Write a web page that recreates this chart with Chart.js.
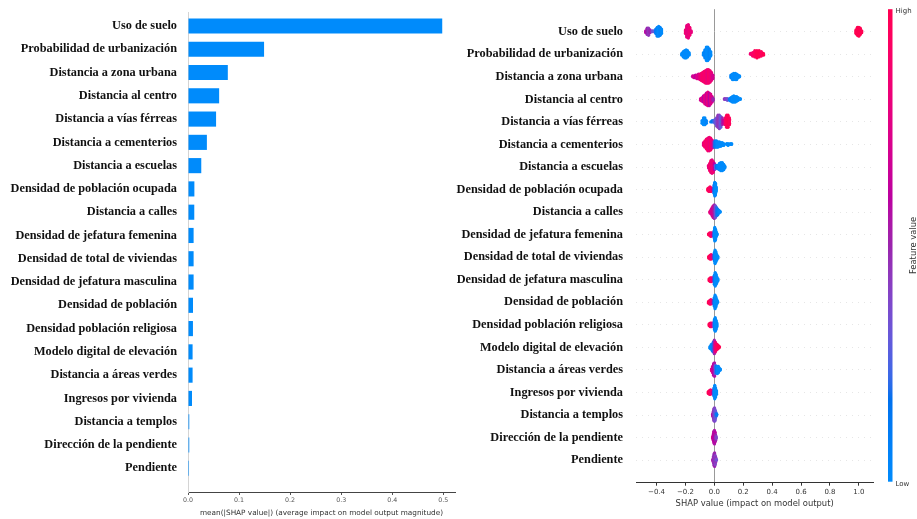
<!DOCTYPE html>
<html>
<head>
<meta charset="utf-8">
<script src="https://cdn.jsdelivr.net/npm/chart.js@4.4.0/dist/chart.umd.min.js"></script>
<style>
    html, body { margin: 0; padding: 0; background: #fff; }
    #wrap { position: relative; width: 917px; height: 519px; }
    .box { position: absolute; top: 0; height: 519px; }
    #bar-box { left: 0; width: 460px; }
    #swarm-box { left: 440px; width: 477px; }
</style>
</head>
<body>
<div id="wrap">
    <div class="box" id="bar-box"><canvas id="bar-chart"></canvas></div>
    <div class="box" id="swarm-box"><canvas id="swarm-chart"></canvas></div>
</div>
<script>
const features = [
    'Uso de suelo',
    'Probabilidad de urbanización',
    'Distancia a zona urbana',
    'Distancia al centro',
    'Distancia a vías férreas',
    'Distancia a cementerios',
    'Distancia a escuelas',
    'Densidad de población ocupada',
    'Distancia a calles',
    'Densidad de jefatura femenina',
    'Densidad de total de viviendas',
    'Densidad de jefatura masculina',
    'Densidad de población',
    'Densidad población religiosa',
    'Modelo digital de elevación',
    'Distancia a áreas verdes',
    'Ingresos por vivienda',
    'Distancia a templos',
    'Dirección de la pendiente',
    'Pendiente'
];

// mean(|SHAP value|) per feature, same order as features
const meanAbsShap = [0.498, 0.149, 0.078, 0.061, 0.055, 0.037, 0.026, 0.0125, 0.0123, 0.011,
    0.011, 0.011, 0.0098, 0.0097, 0.009, 0.009, 0.0078, 0.0025, 0.0025, 0.002];

const barTicks = [0, 0.1, 0.2, 0.3, 0.4, 0.5];
const shapTicks = [-0.4, -0.2, 0, 0.2, 0.4, 0.6, 0.8, 1.0];

// beeswarm, one list per feature: [shap value, feature value (0 low .. 1 high), samples]
const swarmPoints = [
    [[-0.475, 0.6, 3], [-0.465, 0.5, 8], [-0.455, 0.45, 9], [-0.445, 0.5, 4], [-0.43, 0.35, 2], [-0.42, 0.3, 2],
     [-0.405, 0.1, 6], [-0.395, 0.05, 11], [-0.385, 0, 12], [-0.375, 0.05, 10], [-0.365, 0, 6],
     [-0.2, 0.85, 5], [-0.19, 0.8, 14], [-0.18, 0.8, 16], [-0.17, 0.85, 10], [-0.16, 0.8, 3],
     [0.98, 1, 5], [0.99, 1, 10], [1.0, 1, 11], [1.01, 1, 8], [1.02, 1, 3]],
    [[-0.225, 0, 3], [-0.215, 0, 7], [-0.205, 0, 9], [-0.195, 0, 10], [-0.185, 0, 8], [-0.175, 0, 4],
     [-0.075, 0, 4], [-0.065, 0.05, 10], [-0.055, 0, 16], [-0.045, 0, 16], [-0.035, 0.05, 12], [-0.025, 0, 6],
     [0.25, 0.85, 2], [0.265, 0.9, 5], [0.28, 0.95, 8], [0.295, 1, 9], [0.31, 1, 8], [0.325, 0.95, 6], [0.34, 1, 3]],
    [[-0.15, 0.65, 2], [-0.14, 0.7, 3], [-0.13, 0.6, 4], [-0.12, 0.75, 5], [-0.11, 0.7, 6], [-0.1, 0.8, 7],
     [-0.09, 0.85, 9], [-0.08, 0.9, 11], [-0.07, 0.85, 13], [-0.06, 0.9, 15], [-0.05, 0.8, 16], [-0.04, 0.9, 16],
     [-0.03, 0.85, 14], [-0.02, 0.8, 10], [-0.01, 0.7, 5],
     [0.115, 0.05, 4], [0.125, 0, 7], [0.135, 0, 8], [0.145, 0, 8], [0.155, 0, 7], [0.165, 0, 4], [0.175, 0, 2]],
    [[-0.095, 0.7, 3], [-0.085, 0.75, 5], [-0.075, 0.6, 8], [-0.065, 0.8, 11], [-0.055, 0.65, 14], [-0.045, 0.8, 16],
     [-0.035, 0.6, 15], [-0.025, 0.75, 12], [-0.015, 0.7, 7], [-0.008, 0.5, 3],
     [0.07, 0.45, 2], [0.08, 0.4, 2], [0.09, 0.35, 3],
     [0.105, 0.1, 3], [0.115, 0.05, 5], [0.125, 0, 7], [0.135, 0, 8], [0.145, 0, 7], [0.155, 0, 6], [0.165, 0, 4], [0.18, 0, 2]],
    [[-0.085, 0, 3], [-0.075, 0, 6], [-0.065, 0, 6], [-0.055, 0.05, 3],
     [-0.025, 0.1, 1], [-0.015, 0.15, 2], [-0.005, 0.2, 2],
     [0.005, 0.3, 4], [0.015, 0.35, 7], [0.025, 0.45, 10], [0.035, 0.4, 11], [0.045, 0.3, 9], [0.055, 0.5, 6], [0.062, 0.6, 3],
     [0.075, 0.9, 6], [0.085, 0.95, 10], [0.095, 1, 10], [0.105, 0.95, 6]],
    [[-0.075, 0.8, 4], [-0.065, 0.9, 8], [-0.055, 0.85, 12], [-0.045, 0.9, 15], [-0.035, 0.8, 16], [-0.025, 0.9, 14],
     [-0.015, 0.75, 10], [-0.005, 0.5, 7],
     [0.005, 0.1, 8], [0.015, 0.05, 8], [0.025, 0, 7], [0.035, 0, 6], [0.045, 0, 5], [0.055, 0, 4], [0.065, 0, 3],
     [0.085, 0, 2], [0.095, 0, 3], [0.11, 0, 2], [0.12, 0, 2]],
    [[-0.04, 0.8, 4], [-0.032, 0.85, 9], [-0.024, 0.9, 14], [-0.016, 0.8, 16], [-0.008, 0.85, 13], [0, 0.6, 8],
     [0.008, 0.3, 5], [0.016, 0.15, 4],
     [0.025, 0.05, 5], [0.035, 0, 8], [0.045, 0, 10], [0.055, 0, 10], [0.065, 0, 7], [0.073, 0, 3]],
    [[-0.045, 1, 3], [-0.038, 0.95, 5], [-0.03, 0.9, 6], [-0.022, 0.95, 5], [-0.015, 0.85, 3], [-0.008, 0.6, 3],
     [-0.002, 0.2, 10], [0.003, 0.05, 16], [0.008, 0, 14], [0.013, 0, 6]],
    [[-0.03, 0.8, 3], [-0.022, 0.75, 6], [-0.015, 0.65, 10], [-0.008, 0.7, 14], [0, 0.5, 16], [0.008, 0.35, 14],
     [0.016, 0.2, 10], [0.024, 0.1, 7], [0.032, 0.05, 4], [0.04, 0, 2]],
    [[-0.04, 1, 2], [-0.032, 0.95, 4], [-0.024, 0.9, 5], [-0.016, 0.85, 4], [-0.008, 0.6, 3],
     [-0.002, 0.2, 8], [0.003, 0, 16], [0.008, 0, 13], [0.014, 0, 6], [0.02, 0, 2]],
    [[-0.038, 1, 3], [-0.03, 0.95, 5], [-0.022, 0.9, 6], [-0.014, 0.8, 4], [-0.006, 0.5, 4],
     [0, 0.15, 10], [0.005, 0, 16], [0.011, 0, 12], [0.017, 0, 7], [0.024, 0, 3]],
    [[-0.036, 1, 3], [-0.028, 0.95, 5], [-0.02, 0.9, 5], [-0.012, 0.8, 4], [-0.005, 0.5, 4],
     [0, 0.15, 11], [0.006, 0, 16], [0.012, 0, 12], [0.018, 0, 7], [0.025, 0, 3]],
    [[-0.04, 1, 3], [-0.032, 0.95, 5], [-0.024, 0.9, 6], [-0.016, 0.85, 4], [-0.008, 0.55, 4],
     [-0.001, 0.15, 10], [0.005, 0, 16], [0.011, 0, 12], [0.017, 0, 6], [0.023, 0, 2]],
    [[-0.036, 1, 3], [-0.028, 0.95, 5], [-0.02, 0.9, 5], [-0.012, 0.75, 4], [-0.005, 0.4, 5],
     [0.001, 0.1, 12], [0.006, 0, 16], [0.012, 0, 11], [0.018, 0, 5]],
    [[-0.03, 0, 3], [-0.022, 0, 6], [-0.014, 0.05, 9], [-0.007, 0.2, 12], [0, 0.5, 16], [0.007, 0.8, 12],
     [0.014, 0.9, 8], [0.021, 0.95, 6], [0.028, 1, 4], [0.035, 1, 2]],
    [[-0.02, 0.75, 3], [-0.012, 0.7, 8], [-0.005, 0.6, 14], [0.001, 0.55, 16], [0.007, 0.3, 10], [0.014, 0.1, 8],
     [0.021, 0, 9], [0.028, 0, 8], [0.035, 0, 4], [0.042, 0, 2]],
    [[-0.042, 1, 3], [-0.034, 0.95, 5], [-0.026, 0.9, 6], [-0.018, 0.85, 4], [-0.01, 0.6, 3],
     [-0.003, 0.2, 10], [0.003, 0, 16], [0.009, 0, 11], [0.015, 0, 5]],
    [[-0.012, 0.6, 3], [-0.007, 0.5, 8], [-0.003, 0.45, 14], [0.001, 0.4, 16], [0.005, 0.35, 13], [0.009, 0.3, 8],
     [0.013, 0.2, 4], [0.017, 0.1, 2]],
    [[-0.012, 0.7, 3], [-0.007, 0.65, 8], [-0.003, 0.6, 14], [0.001, 0.55, 16], [0.005, 0.6, 12], [0.009, 0.5, 7],
     [0.013, 0.4, 3]],
    [[-0.01, 0.55, 3], [-0.006, 0.5, 8], [-0.002, 0.45, 14], [0.002, 0.5, 16], [0.006, 0.4, 11], [0.01, 0.45, 6],
     [0.014, 0.35, 2]]
];

// shap red_blue colormap (LCH interpolation)
const blueLch = [54, 70, 4.6588];
const redLch = [54, 90, 0.35470565 + 2 * Math.PI];
const lMid = 40;

const labToRgb = (L, a, b) => {
    const fy = (L + 16) / 116, fx = fy + a / 500, fz = fy - b / 200;
    const inv = t => t > 6 / 29 ? t * t * t : 3 * (6 / 29) ** 2 * (t - 4 / 29);
    const X = 0.95047 * inv(fx), Y = inv(fy), Z = 1.08883 * inv(fz);
    const lin = [
        3.2406 * X - 1.5372 * Y - 0.4986 * Z,
        -0.9689 * X + 1.8758 * Y + 0.0415 * Z,
        0.0557 * X - 0.2040 * Y + 1.0570 * Z
    ];
    return lin.map(c => {
        c = c <= 0.0031308 ? 12.92 * c : 1.055 * Math.pow(c, 1 / 2.4) - 0.055;
        return Math.round(Math.min(1, Math.max(0, c)) * 255);
    });
};

const redBlue = t => {
    const l = t < 0.5 ? blueLch[0] + (lMid - blueLch[0]) * t * 2 : lMid + (redLch[0] - lMid) * (t - 0.5) * 2;
    const c = blueLch[1] + (redLch[1] - blueLch[1]) * t;
    const h = blueLch[2] + (redLch[2] - blueLch[2]) * t;
    const [r, g, b] = labToRgb(l, c * Math.cos(h), c * Math.sin(h));
    return `rgb(${r},${g},${b})`;
};

const labelFont = { family: '"Liberation Serif", "Times New Roman", serif', size: 12.3, weight: 'bold' };
const axisFont = '"DejaVu Sans", sans-serif';

// the feature labels would otherwise push the plot area in by half a line
const noLabelPadding = s => { s.paddingTop = 0; s.paddingBottom = 0; };

// ---------- left: mean |SHAP| bars ----------
new Chart(document.getElementById('bar-chart'), {
    type: 'bar',
    data: {
        datasets: [{
            data: features.map((f, i) => ({ x: meanAbsShap[i], y: i })),
            backgroundColor: '#008bfb',
            borderWidth: 0,
            categoryPercentage: 1,
            barPercentage: 0.65
        }]
    },
    options: {
        indexAxis: 'y',
        responsive: true,
        maintainAspectRatio: false,
        animation: false,
        layout: { padding: { top: 12, right: 5, left: 0, bottom: 0 } },
        plugins: { legend: { display: false }, tooltip: { enabled: false } },
        scales: {
            x: {
                type: 'linear',
                min: 0,
                max: 0.523,
                afterFit: s => { s.height = 27; },
                afterBuildTicks: s => { s.ticks = barTicks.map(v => ({ value: v })); },
                grid: { display: true, drawOnChartArea: false, drawTicks: true, tickLength: 3, tickColor: '#555' },
                border: { display: true, color: '#444', width: 1 },
                ticks: {
                    padding: 2,
                    color: '#555',
                    font: { family: axisFont, size: 6.3 },
                    callback: v => v.toFixed(1)
                },
                title: {
                    display: true,
                    text: 'mean(|SHAP value|) (average impact on model output magnitude)',
                    color: '#333',
                    font: { family: axisFont, size: 7.3 },
                    padding: { top: 0, bottom: 1.6 }
                }
            },
            y: {
                type: 'linear',
                reverse: true,
                offset: false,
                min: -0.6,
                max: 20.02,
                afterFit: s => { s.width = 188; noLabelPadding(s); },
                afterBuildTicks: s => { s.ticks = features.map((f, i) => ({ value: i })); },
                grid: { display: true, offset: false, drawOnChartArea: false, drawTicks: false },
                border: { display: true, color: '#d4d4d4', width: 1 },
                ticks: {
                    autoSkip: false,
                    padding: 11,
                    color: '#111',
                    font: labelFont,
                    callback: v => features[v]
                }
            }
        }
    }
});

// ---------- right: beeswarm ----------
const rowHeight = 0.4;
const swarmData = [];
const swarmColors = [];
swarmPoints.forEach((row, i) => {
    const pos = features.length - 1 - i;
    const maxN = Math.max(...row.map(p => p[2]));
    const unit = 0.9 * rowHeight / (Math.ceil((maxN - 1) / 2) + 1);
    row.forEach(([shap, fv, n]) => {
        for (let layer = 0; layer < n; layer++) {
            const off = Math.ceil(layer / 2) * ((layer % 2) * 2 - 1);
            swarmData.push({ x: shap, y: pos + off * unit });
            swarmColors.push(redBlue(fv));
        }
    });
});

const colorBar = {
    id: 'colorBar',
    afterDraw(chart) {
        const { ctx, chartArea } = chart;
        const x = chartArea.right + 14.7;
        const w = 4.5;
        const top = chartArea.top;
        const bottom = chartArea.bottom - 1;
        const grad = ctx.createLinearGradient(0, bottom, 0, top);
        for (let k = 0; k <= 40; k++) grad.addColorStop(k / 40, redBlue(k / 40));
        ctx.save();
        ctx.fillStyle = grad;
        ctx.fillRect(x, top, w, bottom - top);
        ctx.fillStyle = '#333';
        ctx.font = `7px ${axisFont}`;
        ctx.textBaseline = 'middle';
        ctx.fillText('High', x + w + 3, top + 2);
        ctx.fillText('Low', x + w + 3, bottom + 2);
        ctx.translate(x + w + 21, (top + bottom) / 2);
        ctx.rotate(-Math.PI / 2);
        ctx.textAlign = 'center';
        ctx.font = `8.4px ${axisFont}`;
        ctx.fillText('Feature value', 0, 0);
        ctx.restore();
    }
};

new Chart(document.getElementById('swarm-chart'), {
    type: 'scatter',
    data: {
        datasets: [{
            data: swarmData,
            pointBackgroundColor: swarmColors,
            pointBorderWidth: 0,
            pointRadius: 1.6,
            pointHoverRadius: 1.6
        }]
    },
    options: {
        responsive: true,
        maintainAspectRatio: false,
        animation: false,
        layout: { padding: { top: 9.2, right: 43.7, left: 0, bottom: 0 } },
        plugins: { legend: { display: false }, tooltip: { enabled: false } },
        scales: {
            x: {
                type: 'linear',
                min: -0.542,
                max: 1.10,
                afterFit: s => { s.height = 36.3; },
                afterBuildTicks: s => { s.ticks = shapTicks.map(v => ({ value: v })); },
                grid: {
                    display: true,
                    drawOnChartArea: true,
                    drawTicks: true,
                    tickLength: 3,
                    tickColor: '#333',
                    lineWidth: 1,
                    color: c => (c.tick && c.tick.value === 0 ? '#999999' : 'rgba(0,0,0,0)')
                },
                border: { display: true, color: '#333', width: 1 },
                ticks: {
                    padding: 2,
                    color: '#333',
                    font: { family: axisFont, size: 7 },
                    callback: v => v.toFixed(1).replace('-', '\u2212')
                },
                title: {
                    display: true,
                    text: 'SHAP value (impact on model output)',
                    color: '#333',
                    font: { family: axisFont, size: 8.4 },
                    padding: { top: 0, bottom: 10.6 }
                }
            },
            y: {
                type: 'linear',
                offset: false,
                min: -1,
                max: 20,
                afterFit: s => { s.width = 196; noLabelPadding(s); },
                afterBuildTicks: s => { s.ticks = features.map((f, i) => ({ value: i })); },
                grid: { display: true, drawOnChartArea: true, drawTicks: false, color: '#cccccc', lineWidth: 0.5 },
                border: { display: false, dash: [1, 5] },
                ticks: {
                    autoSkip: false,
                    padding: 13,
                    color: '#111',
                    font: labelFont,
                    callback: v => features[features.length - 1 - v]
                }
            }
        }
    },
    plugins: [colorBar]
});
</script>
</body>
</html>
